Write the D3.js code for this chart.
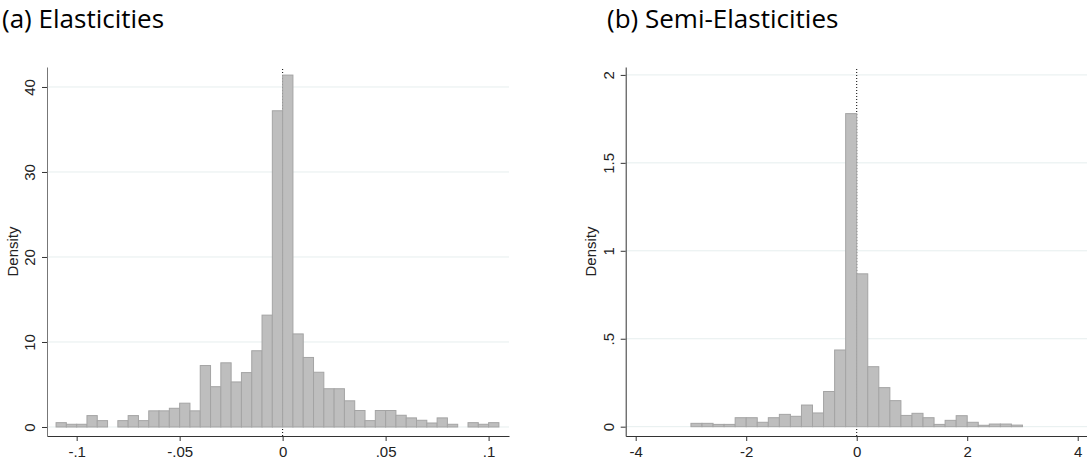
<!DOCTYPE html>
<meta charset="utf-8">
<head>
<title>Elasticities histograms</title>
</head>
<style>
body { margin: 0; background: #fff; }
text { font-family: "Liberation Sans", Arial, sans-serif; fill: #222; }
.title { font-family: "Open Sans", sans-serif; font-size: 26px; fill: #000; }
</style>
<body>
<svg width="1087" height="459"></svg>
<script src="https://d3js.org/d3.v7.min.js"></script>
<script>

// (a) elasticities: bins of width .005, first bin starts at -.11
var elasStart = -0.11, elasWidth = 0.005;
var elasDensity = [
  0.51, 0.32, 0.32, 1.34, 0.75, 0, 0.75, 1.34, 0.75, 1.9,
  1.9, 2.2, 2.8, 1.9, 7.23, 4.74, 7.55, 5.3, 6.4, 8.97,
  13.16, 37.2, 41.4, 10.95, 8.18, 6.44, 4.5, 4.5, 3.08, 1.94,
  0.75, 1.94, 1.94, 1.38, 1.07, 0.79, 0.47, 1.07, 0.32, 0,
  0.51, 0.32, 0.51
];
var elasXTicks = [-0.1, -0.05, 0, 0.05, 0.1];
var elasXLabels = ['-.1', '-.05', '0', '.05', '.1'];
var elasYTicks = [0, 10, 20, 30, 40];
var elasYLabels = ['0', '10', '20', '30', '40'];

// (b) semi-elasticities: bins of width .2, first bin starts at -3
var semiStart = -3, semiWidth = 0.2;
var semiDensity = [
  0.019, 0.019, 0.013, 0.013, 0.051, 0.051, 0.025, 0.051, 0.07, 0.059,
  0.123, 0.078, 0.2, 0.436, 1.78, 0.869, 0.341, 0.222, 0.148, 0.064,
  0.076, 0.051, 0.013, 0.036, 0.0625, 0.025, 0.008, 0.015, 0.015, 0.009
];
var semiXTicks = [-4, -2, 0, 2, 4];
var semiXLabels = ['-4', '-2', '0', '2', '4'];
var semiYTicks = [0, 0.5, 1, 1.5, 2];
var semiYLabels = ['0', '.5', '1', '1.5', '2'];

var svg = d3.select('svg');

function drawPanel(p) {
  var x = d3.scaleLinear().domain(p.xDomain).range([p.left, p.right]);
  var y = d3.scaleLinear().domain(p.yDomain).range([p.bottom, p.top]);
  var g = svg.append('g');

  // title
  svg.append('text').attr('class', 'title')
    .attr('x', p.titleX).attr('y', 27.5)
    .text(p.title);

  // gridlines
  g.selectAll('.grid').data(p.yTicks).enter().append('line')
    .attr('x1', p.left).attr('x2', p.right)
    .attr('y1', d => y(d)).attr('y2', d => y(d))
    .attr('stroke', '#e6eeee').attr('stroke-width', 1);

  // dotted reference line at zero
  g.append('line')
    .attr('x1', x(0)).attr('x2', x(0))
    .attr('y1', p.top + 2).attr('y2', p.bottom)
    .attr('stroke', '#000').attr('stroke-width', 1)
    .attr('stroke-dasharray', '1,2');

  // bars
  var bins = p.density.map((d, i) => ({x0: p.start + i * p.width, x1: p.start + (i + 1) * p.width, v: d}))
    .filter(b => b.v > 0);
  g.selectAll('.bar').data(bins).enter().append('rect')
    .attr('x', d => x(d.x0))
    .attr('width', d => x(d.x1) - x(d.x0))
    .attr('y', d => y(d.v))
    .attr('height', d => y(0) - y(d.v))
    .attr('fill', '#bebebe')
    .attr('stroke', '#a4a4a4')
    .attr('stroke-width', 1);

  // x axis
  var xa = svg.append('g').attr('transform', 'translate(0,' + p.bottom + ')')
    .call(d3.axisBottom(x).tickValues(p.xTicks)
      .tickFormat((d, i) => p.xLabels[i]).tickSize(5).tickSizeOuter(0).tickPadding(5));
  xa.select('.domain').attr('stroke', '#333');
  xa.selectAll('.tick line').attr('stroke', '#333');
  xa.selectAll('text').attr('font-size', 15).attr('fill', '#222')
    .attr('font-family', '"Liberation Sans", Arial, sans-serif');

  // y axis
  var ya = svg.append('g').attr('transform', 'translate(' + p.left + ',0)')
    .call(d3.axisLeft(y).tickValues(p.yTicks)
      .tickFormat((d, i) => p.yLabels[i]).tickSize(5).tickSizeOuter(0));
  ya.select('.domain').attr('stroke', p.yAxisColor);
  ya.selectAll('.tick line').attr('stroke', '#333');
  ya.selectAll('text')
    .attr('transform', 'rotate(-90)')
    .attr('x', 0).attr('y', -12).attr('dy', 0)
    .attr('text-anchor', 'middle')
    .attr('font-size', 15).attr('fill', '#222')
    .attr('font-family', '"Liberation Sans", Arial, sans-serif');

  // y title
  svg.append('text')
    .attr('transform', 'translate(' + (p.left - 29.5) + ',' + ((p.top + p.bottom) / 2) + ') rotate(-90)')
    .attr('text-anchor', 'middle')
    .attr('font-size', 15)
    .text('Density');
}

drawPanel({
  title: '(a) Elasticities', titleX: 2,
  left: 47, right: 509, top: 67, bottom: 436,
  xDomain: [-0.1144, 0.1099], yDomain: [-1.06, 42.35],
  start: elasStart, width: elasWidth, density: elasDensity,
  xTicks: elasXTicks, xLabels: elasXLabels,
  yTicks: elasYTicks, yLabels: elasYLabels,
  yAxisColor: '#777'
});

drawPanel({
  title: '(b) Semi-Elasticities', titleX: 607,
  left: 625.7, right: 1087, top: 67, bottom: 436,
  xDomain: [-4.181, 4.168], yDomain: [-0.053, 2.045],
  start: semiStart, width: semiWidth, density: semiDensity,
  xTicks: semiXTicks, xLabels: semiXLabels,
  yTicks: semiYTicks, yLabels: semiYLabels,
  yAxisColor: '#333'
});

</script>
</body>
